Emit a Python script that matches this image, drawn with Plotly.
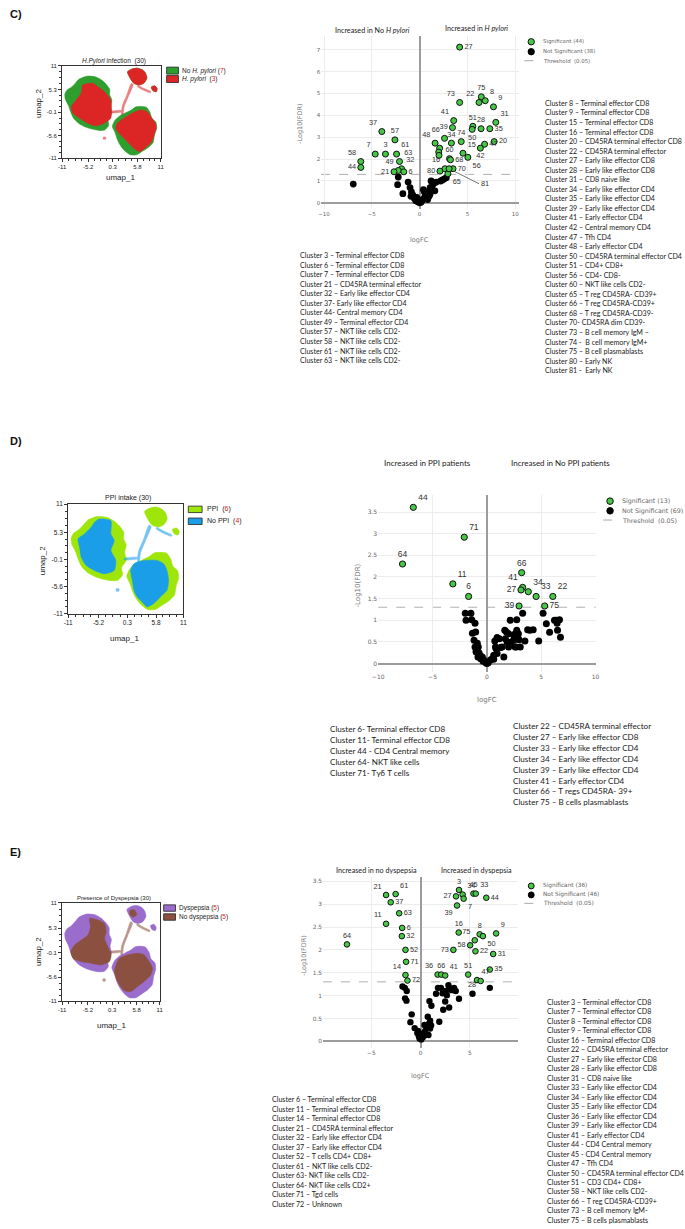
import plotly.graph_objects as go

W, H = 685, 1229


def PX(x):
    return x / W


def PY(y):
    return 1 - y / H


# ======================= DATA =======================
UMAP_TICKS_X = [-11, -5.2, 0.3, 5.8, 11]
UMAP_TICKS_Y = [-11, -5.6, -0.1, 5.3, 11]

# shared UMAP embedding outlines (umap_1, umap_2)
ISLAND_LEFT_X = [-7.2, -5.5, -3.5, -2.1, -1.2, -0.4, -0.4, 0.1, -0.2, 0.1, -0.8, -0.6, -1.5, -2.8,
                 -4.3, -5.8, -7.1, -8.4, -9.1, -9.6, -10.3, -10.4, -9.9, -8.9, -8.0]
ISLAND_LEFT_Y = [7.8, 8.5, 8.3, 7.5, 6.6, 5.4, 4.0, 2.8, 1.3, -0.3, -1.8, -3.2, -4.3, -4.4,
                 -4.1, -3.6, -2.9, -1.6, 0.0, 1.5, 3.0, 4.2, 5.2, 5.9, 6.9]
ISLAND_RIGHT_X = [0.8, 1.9, 3.2, 4.4, 5.5, 6.7, 7.8, 8.6, 9.0, 9.9, 10.1, 9.6, 9.3, 8.3, 7.0, 5.6,
                  4.2, 2.9, 2.0, 1.3, 0.8, 0.2]
ISLAND_RIGHT_Y = [-2.0, -0.9, -0.2, 0.4, 1.2, 1.3, 1.1, -0.1, -1.5, -2.4, -3.8, -5.5, -7.3, -8.4,
                  -9.3, -10.2, -10.2, -9.2, -8.0, -6.5, -4.9, -3.5]
ISLAND_TOP_X = [3.6, 4.6, 5.8, 6.9, 7.6, 7.9, 7.2, 6.1, 5.0, 4.2]
ISLAND_TOP_Y = [9.5, 10.2, 10.4, 10.0, 9.2, 8.0, 6.8, 6.4, 6.8, 8.0]
ISLAND_SMALL_X = [8.9, 9.7, 10.2, 10.0, 9.3]
ISLAND_SMALL_Y = [5.9, 6.2, 5.5, 4.8, 5.0]
STREAM_X = [4.45, 4.85, 3.75, 2.85, 2.55, 2.25, 2.45, 3.4]
STREAM_Y = [6.8, 6.5, 3.6, 1.3, -0.6, -0.6, 1.5, 3.9]
STREAM2_X = [5.9, 7.2, 8.8, 8.7, 7.0, 5.8]
STREAM2_Y = [6.3, 5.6, 4.8, 4.55, 5.25, 6.05]
BRIDGE_X = [-0.3, 2.2, 2.2, -0.3]
BRIDGE_Y = [0.1, 0.3, 0.0, -0.2]
BLOB_X = [-1.8, -1.3, -1.3, -1.8]
BLOB_Y = [-6.0, -6.0, -6.5, -6.5]

# C) H. pylori: red (H. pylori) cells
C_RED_LEFT_X = [-6.38, -4.18, -3.08, -1.61, -0.15, 0.0, -0.15, -1.61, -3.45, -5.28, -7.11, -8.58, -8.95, -7.85, -6.75]
C_RED_LEFT_Y = [6.41, 6.8, 6.01, 4.83, 2.85, 0.47, -1.5, -2.69, -3.32, -2.69, -1.5, -0.32, 1.27, 2.85, 4.43]
C_RED_RIGHT_X = [1.32, 2.79, 4.62, 6.45, 7.92, 9.02, 9.8, 10.0, 9.53, 9.02, 7.92, 6.45, 5.35, 4.25, 2.79, 1.69, 0.95]
C_RED_RIGHT_Y = [-2.69, -1.5, -0.32, 0.47, 0.08, -1.5, -2.69, -3.88, -5.46, -7.04, -8.23, -9.42, -9.02, -7.84, -6.25, -5.07, -3.88]

# D) PPI: blue (No PPI) cells
D_BLUE_LEFT_X = [-5.03, -2.83, -2.83, -2.2, -2.83, -1.89, -2.2, -4.09, -5.97, -7.54, -8.49, -8.8, -9.11, -7.86, -6.6, -5.97]
D_BLUE_LEFT_Y = [8.0, 7.67, 5.0, 3.67, 1.67, -0.33, -2.33, -3.0, -2.33, -1.33, 0.33, 2.33, 4.0, 5.0, 6.33, 7.33]
D_BLUE_RIGHT_X = [1.57, 3.46, 5.97, 7.23, 7.86, 8.17, 7.86, 6.6, 5.34, 4.09, 3.14, 2.2, 1.57, 1.26, 0.94]
D_BLUE_RIGHT_Y = [-1.0, -0.33, -0.33, -1.0, -2.33, -4.33, -6.33, -7.67, -9.0, -9.67, -8.67, -7.67, -6.33, -4.33, -2.33]

# E) Dyspepsia: brown (No dyspepsia) cells
E_BROWN_LEFT_X = [-4.81, -2.95, -1.45, -1.08, -1.45, -0.71, 0.04, -0.34, -2.2, -4.44, -6.67, -8.54, -9.06, -8.17, -6.67, -5.18, -4.59]
E_BROWN_LEFT_Y = [7.52, 7.15, 6.4, 4.55, 3.07, 1.21, -0.64, -2.12, -2.86, -2.49, -2.12, -1.38, 0.1, 1.59, 2.7, 3.81, 5.66]
E_BROWN_RIGHT_X = [1.9, 3.77, 6.0, 7.5, 8.6, 9.36, 8.99, 7.5, 6.0, 4.51, 3.02, 1.9, 1.16, 0.78, 1.16]
E_BROWN_RIGHT_Y = [-1.38, -0.64, -0.27, -0.64, -2.12, -3.6, -5.09, -6.57, -7.68, -8.79, -8.64, -7.31, -5.83, -4.34, -2.86]
E_BROWN_TOP_X = [4.3, 5.3, 5.8, 5.0, 4.3]
E_BROWN_TOP_Y = [9.3, 9.4, 8.4, 7.8, 8.3]

THRESHOLD = 1.30103  # -log10(0.05)

# ---- C volcano ----
C_SIG_LABEL = ["27", "75", "8", "22", "73", "9", "41", "51", "28", "31", "39", "35", "50", "66", "34", "74",
               "48", "20", "47", "42", "15", "56", "60", "68", "16", "70", "80", "65", "", "", "", "",
               "37", "57", "7", "3", "61", "63", "58", "44", "32", "49", "21", "6"]
C_SIG_FC = [4.19, 6.46, 6.87, 6.22, 4.19, 7.73, 3.57, 5.57, 6.43, 7.97, 3.44, 7.35, 5.5, 2.61, 3.33, 4.36,
            1.62, 7.8, 6.8, 6.36, 4.54, 5.05, 3.13, 3.23, 2.65, 3.5, 2.13, 2.96, 3.09, 2.1, 2.0, 2.03,
            -3.95, -2.58, -4.64, -3.57, -2.41, -2.1, -6.15, -6.15, -1.89, -2.23, -2.68, -1.65]
C_SIG_FDR = [7.12, 4.85, 4.67, 4.59, 4.59, 4.39, 3.76, 3.5, 3.39, 3.68, 3.44, 3.39, 3.36, 2.95, 2.73, 2.8,
             2.73, 2.8, 2.68, 2.5, 2.27, 2.08, 2.02, 1.97, 1.56, 1.56, 1.45, 1.33, 1.56, 2.5, 2.32, 2.17,
             3.26, 2.88, 2.23, 2.23, 2.23, 1.89, 1.89, 1.62, 1.56, 1.48, 1.42, 1.42]
C_NS_FC = [-6.94, -2.23, -2.3, -1.75, -1.2, -1.0, -0.85, -0.7, -0.55, -0.4, -0.2, 0.0, 0.15, 0.3, 0.45, 0.6,
           0.75, 0.9, 1.0, 1.1, 1.25, 1.35, 1.5, 1.6, 1.75, 2.2, 2.4, 2.6, 1.2, 0.5, -0.3, 0.85, 1.0, -0.9,
           0.4, 1.1, -0.15, 2.8]
C_NS_FDR = [0.86, 1.18, 0.83, 0.42, 0.95, 0.7, 0.5, 0.35, 0.2, 0.1, 0.05, 0.0, 0.03, 0.12, 0.2, 0.3,
            0.35, 0.45, 0.55, 0.7, 0.6, 0.8, 0.9, 0.55, 0.95, 1.0, 1.05, 1.1, 1.0, 0.5, 0.25, 0.15, 0.3, 0.3,
            0.6, 0.4, 0.15, 1.15]
C_ARROW_LABEL = "81"
C_ARROW_FC = 3.09
C_ARROW_FDR = 1.56

# ---- D volcano ----
D_SIG_LABEL = ["44", "71", "64", "11", "6", "66", "41", "27", "34", "33", "22", "39", "75"]
D_SIG_FC = [-6.77, -2.08, -7.76, -3.13, -1.68, 3.2, 3.29, 3.14, 3.81, 4.53, 6.07, 2.96, 5.32]
D_SIG_FDR = [3.61, 2.92, 2.30, 1.84, 1.55, 2.10, 1.76, 1.70, 1.66, 1.55, 1.55, 1.33, 1.33]
D_NS_FC = [-1.99, -1.47, -1.92, -1.39, -1.09, -1.33, -1.03, -1.18, -0.88, -1.09, -0.79, -0.73, -0.82, -0.57,
           -0.42, -0.27, 0.0, 0.12, 0.33, 0.48, 0.63, 0.79, 0.73, 0.94, 1.15, 0.85, 0.63, -0.35, -0.63, -1.0,
           -0.1,
           1.65, 1.8, 2.0, 2.15, 2.75, 1.86, 2.0, 1.56, 2.46, 2.6, 2.75, 2.84, 2.96, 2.69, 3.29, 3.5, 3.96,
           4.26, 4.77, 5.17, 5.47, 5.77, 6.22, 6.46, 6.68, 6.77, 2.9, 2.24, 1.4, 1.7, 2.48, 3.07, 6.37, 6.5,
           2.6, 3.75, 0.94, 1.25]
D_NS_FDR = [1.16, 1.16, 1.0, 1.01, 0.93, 0.70, 0.73, 0.54, 0.47, 0.38, 0.38, 0.25, 0.15, 0.11,
            0.15, 0.08, 0.0, 0.02, 0.08, 0.11, 0.19, 0.38, 0.52, 0.60, 0.57, 0.34, 0.10, 0.05, 0.19, 0.27,
            0.02,
            0.77, 0.73, 0.69, 1.0, 1.01, 0.50, 0.38, 0.15, 0.54, 0.38, 0.77, 0.60, 0.55, 0.38, 1.16, 0.52, 0.77,
            0.78, 0.52, 1.16, 0.92, 0.72, 1.0, 0.93, 1.01, 0.61, 0.69, 0.5, 0.38, 0.57, 0.65, 0.38, 1.0, 0.77,
            0.69, 0.78, 0.23, 0.37]

# ---- E volcano ----
E_SIG_LABEL = ["64", "21", "61", "37", "63", "11", "6", "32", "52", "71", "14", "72", "3", "34", "45", "33",
               "27", "7", "44", "39", "16", "8", "9", "75", "50", "58", "22", "73", "31", "36", "66", "41",
               "51", "35", "47", ""]
E_SIG_FC = [-7.47, -3.5, -2.53, -3.03, -2.17, -3.5, -1.87, -1.9, -1.53, -1.47, -1.53, -1.33, 3.9, 4.27, 5.37,
            5.6, 3.6, 4.37, 6.67, 3.7, 3.87, 6.0, 7.67, 5.5, 6.33, 5.03, 5.57, 3.33, 7.37, 1.73, 2.1, 2.5,
            4.83, 7.03, 5.73, 6.1]
E_SIG_FDR = [2.12, 3.2, 3.22, 3.04, 2.8, 2.57, 2.48, 2.3, 2.0, 1.74, 1.45, 1.33, 3.31, 3.21, 3.23, 3.23,
             3.17, 3.12, 3.14, 2.97, 2.38, 2.34, 2.36, 2.21, 2.30, 2.10, 1.97, 2.0, 1.91, 1.46, 1.46, 1.44,
             1.46, 1.57, 1.34, 1.32]
E_NS_FC = [-1.83, -1.6, -1.4, -1.57, -1.43, -0.9, -1.03, -0.6, -0.33, -0.17, 0.07, 0.23, 0.3, 0.47, 0.63,
           0.83, 0.97, 0.73, 0.97, 1.9, 0.9, 1.1, 1.57, 1.77, 2.07, 2.23, 2.57, 2.67, 2.9, 3.17, 3.4, 3.57,
           3.9, 2.9, 2.3, 5.27, 7.03, -0.1, 0.13, 0.57, -0.27, 0.4, 0.8, 1.07, 2.83, 2.5]
E_NS_FDR = [1.2, 1.17, 1.1, 0.94, 0.89, 0.59, 0.42, 0.29, 0.18, 0.11, 0.04, 0.09, 0.18, 0.23, 0.3,
            0.38, 0.28, 0.54, 0.45, 0.43, 0.88, 0.78, 1.04, 1.17, 1.17, 1.05, 1.1, 1.01, 1.17, 1.12, 1.17, 1.1,
            0.93, 0.74, 0.69, 1.04, 1.17, 0.06, 0.13, 0.14, 0.23, 0.36, 0.14, 0.35, 1.23, 0.87]
E_NS_LABEL_NAME = "28"
E_NS_LABEL_FC = 5.27
E_NS_LABEL_FDR = 1.04

C_COUNTS = (44, 38)
D_COUNTS = (13, 69)
E_COUNTS = (36, 46)

C_LIST_LEFT = [
    "Cluster 3 – Terminal effector CD8", "Cluster 6 – Terminal effector CD8",
    "Cluster 7 – Terminal effector CD8", "Cluster 21 – CD45RA terminal effector",
    "Cluster 32 – Early like effector CD4", "Cluster 37- Early like effector CD4",
    "Cluster 44- Central memory CD4", "Cluster 49 – Terminal effector CD4",
    "Cluster 57 – NKT like cells CD2-", "Cluster 58 – NKT like cells CD2-",
    "Cluster 61 – NKT like cells CD2-", "Cluster 63 – NKT like cells CD2-"]
C_LIST_RIGHT = [
    "Cluster 8 – Terminal effector CD8", "Cluster 9 – Terminal effector CD8",
    "Cluster 15 – Terminal effector CD8", "Cluster 16 – Terminal effector CD8",
    "Cluster 20 – CD45RA terminal effector CD8", "Cluster 22 – CD45RA terminal effector",
    "Cluster 27 – Early like effector CD8", "Cluster 28 – Early like effector CD8",
    "Cluster 31 – CD8 naive like", "Cluster 34 – Early like effector CD4",
    "Cluster 35 – Early like effector CD4", "Cluster 39 – Early like effector CD4",
    "Cluster 41 – Early effector CD4", "Cluster 42 – Central memory CD4",
    "Cluster 47 – Tfh CD4", "Cluster 48 – Early effector CD4",
    "Cluster 50 – CD45RA terminal effector CD4", "Cluster 51 – CD4+ CD8+",
    "Cluster 56 – CD4- CD8-", "Cluster 60 – NKT like cells CD2-",
    "Cluster 65 – T reg CD45RA- CD39+", "Cluster 66 – T reg CD45RA-CD39+",
    "Cluster 68 – T reg CD45RA-CD39-", "Cluster 70- CD45RA dim CD39-",
    "Cluster 73 – B cell memory IgM –", "Cluster 74 -  B cell memory IgM+",
    "Cluster 75 – B cell plasmablasts", "Cluster 80 – Early NK", "Cluster 81 -  Early NK"]
D_LIST_LEFT = [
    "Cluster 6- Terminal effector CD8", "Cluster 11- Terminal effector CD8",
    "Cluster 44 - CD4 Central memory", "Cluster 64- NKT like cells", "Cluster 71- Tγδ T cells"]
D_LIST_RIGHT = [
    "Cluster 22 – CD45RA terminal effector", "Cluster 27 – Early like effector CD8",
    "Cluster 33 – Early like effector CD4", "Cluster 34 – Early like effector CD4",
    "Cluster 39 – Early like effector CD4", "Cluster 41 – Early effector CD4",
    "Cluster 66 – T regs CD45RA- 39+", "Cluster 75 – B cells plasmablasts"]
E_LIST_LEFT = [
    "Cluster 6 – Terminal effector CD8", "Cluster 11 – Terminal effector CD8",
    "Cluster 14 – Terminal effector CD8", "Cluster 21 – CD45RA terminal effector",
    "Cluster 32 – Early like effector CD4", "Cluster 37 – Early like effector CD4",
    "Cluster 52 – T cells CD4+ CD8+", "Cluster 61 – NKT like cells CD2-",
    "Cluster 63- NKT like cells CD2-", "Cluster 64- NKT like cells CD2+",
    "Cluster 71 – Tgd cells", "Cluster 72 – Unknown"]
E_LIST_RIGHT = [
    "Cluster 3 – Terminal effector CD8", "Cluster 7 – Terminal effector CD8",
    "Cluster 8 – Terminal effector CD8", "Cluster 9 – Terminal effector CD8",
    "Cluster 16 – Terminal effector CD8", "Cluster 22 – CD45RA terminal effector",
    "Cluster 27 – Early like effector CD8", "Cluster 28 – Early like effector CD8",
    "Cluster 31 – CD8 naive like", "Cluster 33 – Early like effector CD4",
    "Cluster 34 – Early like effector CD4", "Cluster 35 – Early like effector CD4",
    "Cluster 36 – Early like effector CD4", "Cluster 39 – Early like effector CD4",
    "Cluster 41 – Early effector CD4", "Cluster 44 - CD4 Central memory",
    "Cluster 45 - CD4 Central memory", "Cluster 47 – Tfh CD4",
    "Cluster 50 – CD45RA terminal effector CD4", "Cluster 51 – CD3 CD4+ CD8+",
    "Cluster 58 – NKT like cells CD2-", "Cluster 66 – T reg CD45RA-CD39+",
    "Cluster 73 – B cell memory IgM-", "Cluster 75 – B cells plasmablasts"]

# ======================= STYLE =======================
C_TEXTPOS = ["middle right", "top center", "top right", "top left", "top left", "top right", "top left",
             "top center", "top center", "top right", "middle left", "middle right", "bottom center",
             "top left", "top center", "top center", "top left", "middle right", "middle right",
             "bottom center", "top right", "bottom right", "top center", "middle right", "top left",
             "middle right", "middle left", "bottom right", "top center", "top center", "top center",
             "top center", "top left", "top center", "top left", "top center", "top right", "top right",
             "top left", "middle left", "top right", "top left", "middle left", "middle right"]
D_TEXTPOS = ["top right", "top right", "top center", "top right", "top center", "top center", "top left",
             "middle left", "top right", "top right", "top right", "middle left", "middle right"]
E_TEXTPOS = ["top center", "top left", "top right", "middle right", "middle right", "top left",
             "middle right", "middle right", "middle right", "middle right", "top left", "middle right",
             "top center", "top right", "top center", "top right", "middle left", "bottom right",
             "middle right", "bottom left", "top center", "top center", "top right", "top left",
             "bottom right", "middle left", "middle right", "middle left", "middle right", "top left",
             "top center", "top right", "top center", "middle right", "top right", "top center"]

GREEN = "#46c846"
LIST_FONT = "Lato"
fig = go.Figure()
ann = []
shapes = []


def poly_trace(polys, color, xa, ya, opacity=1.0):
    xs, ys = [], []
    for px_, py_ in polys:
        xs += list(px_) + [px_[0], None]
        ys += list(py_) + [py_[0], None]
    return go.Scatter(x=xs, y=ys, mode="lines", fill="toself", fillcolor=color, opacity=opacity,
                      line=dict(color=color, width=0.6, shape="spline", smoothing=0.6),
                      hoverinfo="skip", showlegend=False, xaxis=xa, yaxis=ya)


MAIN_ISLANDS = [(ISLAND_LEFT_X, ISLAND_LEFT_Y), (ISLAND_RIGHT_X, ISLAND_RIGHT_Y),
                (ISLAND_TOP_X, ISLAND_TOP_Y), (ISLAND_SMALL_X, ISLAND_SMALL_Y)]
THIN_PARTS = [(STREAM_X, STREAM_Y), (STREAM2_X, STREAM2_Y), (BRIDGE_X, BRIDGE_Y), (BLOB_X, BLOB_Y)]

# ---- UMAP C ----
fig.add_trace(poly_trace(MAIN_ISLANDS, "#2e9e2e", "x", "y"))
fig.add_trace(poly_trace([(C_RED_LEFT_X, C_RED_LEFT_Y), (C_RED_RIGHT_X, C_RED_RIGHT_Y),
                          (ISLAND_TOP_X, ISLAND_TOP_Y), (ISLAND_SMALL_X, ISLAND_SMALL_Y)],
                         "#dc2626", "x", "y"))
fig.add_trace(poly_trace(THIN_PARTS, "#dc2626", "x", "y", 0.6))
# ---- UMAP D ----
fig.add_trace(poly_trace(MAIN_ISLANDS, "#9ee60a", "x3", "y3"))
fig.add_trace(poly_trace([(D_BLUE_LEFT_X, D_BLUE_LEFT_Y), (D_BLUE_RIGHT_X, D_BLUE_RIGHT_Y)],
                         "#1a9ee8", "x3", "y3"))
fig.add_trace(poly_trace(THIN_PARTS, "#1a9ee8", "x3", "y3", 0.6))
# ---- UMAP E ----
fig.add_trace(poly_trace(MAIN_ISLANDS, "#9a6ccc", "x5", "y5"))
fig.add_trace(poly_trace([(E_BROWN_LEFT_X, E_BROWN_LEFT_Y), (E_BROWN_RIGHT_X, E_BROWN_RIGHT_Y),
                          (E_BROWN_TOP_X, E_BROWN_TOP_Y)], "#8c5040", "x5", "y5"))
fig.add_trace(poly_trace(THIN_PARTS, "#8c5040", "x5", "y5", 0.6))


def volcano(sig_fc, sig_fdr, sig_lab, textpos, ns_fc, ns_fdr, xa, ya, size, lfs):
    fig.add_trace(go.Scatter(x=ns_fc, y=ns_fdr, mode="markers", xaxis=xa, yaxis=ya,
                             marker=dict(color="black", size=size + 0.8, line=dict(color="black", width=0)),
                             hoverinfo="skip", showlegend=False))
    fig.add_trace(go.Scatter(x=sig_fc, y=sig_fdr, mode="markers+text", xaxis=xa, yaxis=ya,
                             text=sig_lab, textposition=textpos,
                             textfont=dict(size=lfs, color="#333", family="Liberation Sans"),
                             marker=dict(color=GREEN, size=size, line=dict(color="#111", width=1)),
                             hoverinfo="skip", showlegend=False))
    shapes.append(dict(type="line", xref=xa + " domain", yref=ya, x0=0, x1=1, y0=THRESHOLD, y1=THRESHOLD,
                       line=dict(color="#b0b0b0", width=1, dash="dash"), layer="below"))


volcano(C_SIG_FC, C_SIG_FDR, C_SIG_LABEL, C_TEXTPOS, C_NS_FC, C_NS_FDR, "x2", "y2", 6, 7.3)
volcano(D_SIG_FC, D_SIG_FDR, D_SIG_LABEL, D_TEXTPOS, D_NS_FC, D_NS_FDR, "x4", "y4", 6.2, 8.5)
volcano(E_SIG_FC, E_SIG_FDR, E_SIG_LABEL, E_TEXTPOS, E_NS_FC, E_NS_FDR, "x6", "y6", 5.6, 7.3)

ann.append(dict(x=C_ARROW_FC, y=C_ARROW_FDR, xref="x2", yref="y2", text=C_ARROW_LABEL, showarrow=True,
                arrowhead=0, arrowwidth=0.8, arrowcolor="#555", ax=30, ay=15, standoff=6,
                xanchor="left", font=dict(size=7.3, color="#333", family="Liberation Sans")))
ann.append(dict(x=E_NS_LABEL_FC, y=E_NS_LABEL_FDR, xref="x6", yref="y6", text=E_NS_LABEL_NAME,
                showarrow=False, yshift=9, font=dict(size=7.3, color="#333", family="Liberation Sans")))


# ---------- axes ----------
def minor_vals(majors):
    out = []
    for a, b in zip(majors[:-1], majors[1:]):
        for k in (1, 2, 3):
            out.append(a + (b - a) * k / 4)
    return out


def umap_axes(n, x0, x1, y0, y1, fs):
    common = dict(range=[-11, 11], tickmode="array", showline=True, linecolor="#333", linewidth=1,
                  mirror=True, ticks="outside", ticklen=3, tickwidth=0.8, tickcolor="#333", showgrid=False,
                  zeroline=False, tickfont=dict(size=fs, color="#222", family="Liberation Sans"),
                  fixedrange=True)
    ax = dict(domain=[PX(x0), PX(x1)], tickvals=UMAP_TICKS_X, ticktext=[str(v) for v in UMAP_TICKS_X],
              minor=dict(tickvals=minor_vals(UMAP_TICKS_X), ticks="outside", ticklen=2, tickcolor="#333",
                         tickwidth=0.7, showgrid=False),
              anchor="y" + n, **common)
    ay = dict(domain=[PY(y1), PY(y0)], tickvals=UMAP_TICKS_Y, ticktext=[str(v) for v in UMAP_TICKS_Y],
              minor=dict(tickvals=minor_vals(UMAP_TICKS_Y), ticks="outside", ticklen=2, tickcolor="#333",
                         tickwidth=0.7, showgrid=False),
              anchor="x" + n, **common)
    return ax, ay


def volc_axes(n, x0, x1, y0, y1, xr, yr, xt, yt, fs):
    common = dict(tickmode="array", showgrid=True, gridcolor="#ececec", gridwidth=1, zeroline=True,
                  zerolinecolor="#9c9c9c", zerolinewidth=1.6, showline=False, ticks="",
                  tickfont=dict(size=fs, color="#666", family="DejaVu Sans"), fixedrange=True)
    ax = dict(domain=[PX(x0), PX(x1)], range=xr, tickvals=xt, anchor="y" + n, **common)
    ay = dict(domain=[PY(y1), PY(y0)], range=yr, tickvals=yt, anchor="x" + n, **common)
    return ax, ay


layout_axes = {}
a, b = umap_axes("", 57, 157, 62, 155, 6)
layout_axes["xaxis"], layout_axes["yaxis"] = a, b
a, b = volc_axes("2", 319.8, 520.6, 31.7, 206.6, [-10.3, 10.4], [-0.3, 7.65], [-10, -5, 0, 5, 10],
                 [0, 1, 2, 3, 4, 5, 6, 7], 5.5)
layout_axes["xaxis2"], layout_axes["yaxis2"] = a, b
a, b = umap_axes("3", 63, 180, 503, 613, 6.5)
layout_axes["xaxis3"], layout_axes["yaxis3"] = a, b
a, b = volc_axes("4", 377.7, 598.3, 493.6, 672, [-10, 10], [-0.2, 3.9], [-10, -5, 0, 5, 10],
                 [0, 0.5, 1, 1.5, 2, 2.5, 3, 3.5], 6)
layout_axes["xaxis4"], layout_axes["yaxis4"] = a, b
a, b = umap_axes("5", 57, 156, 904, 1003, 6)
layout_axes["xaxis5"], layout_axes["yaxis5"] = a, b
a, b = volc_axes("6", 321.7, 519.7, 877.7, 1050.2, [-9.9, 9.9], [-0.15, 3.6], [-5, 0, 5],
                 [0, 0.5, 1, 1.5, 2, 2.5, 3, 3.5], 5.8)
layout_axes["xaxis6"], layout_axes["yaxis6"] = a, b


# ---------- text helpers ----------
def text(x, y, s, size, color="#222", family="Liberation Sans", xanchor="left", angle=0, bold=False):
    if bold:
        s = "<b>" + s + "</b>"
    ann.append(dict(x=PX(x), y=PY(y), xref="paper", yref="paper", text=s, showarrow=False,
                    xanchor=xanchor, yanchor="middle", textangle=angle,
                    font=dict(size=size, color=color, family=family)))


def cluster_list(lines, x, y0, step, size):
    for i, s in enumerate(lines):
        text(x, y0 + i * step, s, size, color="#1a1a1a", family=LIST_FONT)


def box(x0, y0, x1, y1, color):
    shapes.append(dict(type="rect", xref="paper", yref="paper", x0=PX(x0), x1=PX(x1), y0=PY(y1), y1=PY(y0),
                       fillcolor=color, line=dict(color="#222", width=0.8)))


def circle(cx, cy, r, color, lc):
    shapes.append(dict(type="circle", xref="paper", yref="paper", x0=PX(cx - r), x1=PX(cx + r),
                       y0=PY(cy + r), y1=PY(cy - r), fillcolor=color, line=dict(color=lc, width=1)))


def volc_legend(mx, tx, ys, counts, fs, r):
    circle(mx, ys[0], r, GREEN, "#111")
    circle(mx, ys[1], r, "black", "black")
    shapes.append(dict(type="line", xref="paper", yref="paper", x0=PX(mx - 7), x1=PX(mx + 7),
                       y0=PY(ys[2]), y1=PY(ys[2]), line=dict(color="#aaa", width=1, dash="dash")))
    text(tx, ys[0], "Significant (%d)" % counts[0], fs, "#666", "DejaVu Sans")
    text(tx, ys[1], "Not Significant (%d)" % counts[1], fs, "#666", "DejaVu Sans")
    text(tx, ys[2], "Threshold  (0.05)", fs, "#666", "DejaVu Sans")


RED = '<span style="color:#e0201c">%s</span>'

# ---- Panel C ----
text(2, 10, "C)", 11, "#111", "Liberation Sans", bold=True)
text(110, 57, "<i>H.Pylori</i> infection  (30)", 6.5, xanchor="center")
text(116, 174, "umap_1", 8, xanchor="center")
text(33, 100, "umap_2", 8, xanchor="center", angle=-90)
box(163, 63.5, 175, 70.5, "#2e9e2e")
box(163, 72, 175, 79, "#dc2626")
text(177, 67, "No <i>H. pylori</i> (" + RED % "7" + ")", 6.5)
text(177, 75.5, "<i>H. pylori</i>  (" + RED % "3" + ")", 6.5)
text(372, 27, "Increased in No <i>H pylori</i>", 7.2, "#222", LIST_FONT, xanchor="center")
text(477, 25, "Increased in <i>H pylori</i>", 7.2, "#222", LIST_FONT, xanchor="center")
text(299, 120, "-Log10(FDR)", 6.5, "#777", "DejaVu Sans", xanchor="center", angle=-90)
text(420, 237, "logFC", 6.5, "#777", "DejaVu Sans", xanchor="center")
volc_legend(533, 543, [38, 48, 57], C_COUNTS, 5.4, 3.2)
cluster_list(C_LIST_RIGHT, 545, 100, 9.6, 7.1)
cluster_list(C_LIST_LEFT, 296, 253, 9.6, 7.1)

# ---- Panel D ----
text(2, 440, "D)", 11, "#111", "Liberation Sans", bold=True)
text(124, 497, "PPI intake (30)", 7, xanchor="center")
text(120.5, 638, "umap_1", 8, xanchor="center")
text(37, 560, "umap_2", 8, xanchor="center", angle=-90)
box(185, 505, 199, 511.5, "#9ee60a")
box(185, 517, 199, 523.5, "#1a9ee8")
text(202, 508, "PPI  (" + RED % "6" + ")", 7)
text(202, 520, "No PPI  (" + RED % "4" + ")", 7)
text(427.5, 461.7, "Increased in PPI patients", 8, "#222", LIST_FONT, xanchor="center")
text(562.5, 461.7, "Increased in No PPI patients", 8, "#222", LIST_FONT, xanchor="center")
text(357, 585, "-Log10(FDR)", 7, "#777", "DejaVu Sans", xanchor="center", angle=-90)
text(488, 700, "logFC", 7, "#777", "DejaVu Sans", xanchor="center")
volc_legend(613, 623, [500, 509.7, 519], D_COUNTS, 6.3, 3.3)
cluster_list(D_LIST_LEFT, 327, 729, 11, 8.1)
cluster_list(D_LIST_RIGHT, 512, 726, 11, 8.1)

# ---- Panel E ----
text(2, 853, "E)", 11, "#111", "Liberation Sans", bold=True)
text(109.5, 899, "Presence of Dyspepsia (30)", 6, xanchor="center")
text(106.7, 1027, "umap_1", 8, xanchor="center")
text(33, 953, "umap_2", 8, xanchor="center", angle=-90)
box(160, 906, 172, 912.5, "#9a6ccc")
box(160, 915, 172, 921.5, "#8c5040")
text(174, 909, "Dyspepsia (" + RED % "5" + ")", 6.5)
text(174, 918, "No dyspepsia (" + RED % "5" + ")", 6.5)
text(375.5, 871, "Increased in no dyspepsia", 7.2, "#222", LIST_FONT, xanchor="center")
text(477, 871, "Increased in dyspepsia", 7.2, "#222", LIST_FONT, xanchor="center")
text(301.7, 957, "-Log10(FDR)", 6.5, "#777", "DejaVu Sans", xanchor="center", angle=-90)
text(421, 1078, "logFC", 6.5, "#777", "DejaVu Sans", xanchor="center")
volc_legend(533, 543, [887, 896, 904.5], E_COUNTS, 5.8, 3.0)
cluster_list(E_LIST_LEFT, 268, 1102, 9.55, 7.1)
cluster_list(E_LIST_RIGHT, 547, 1004, 9.54, 7.1)

fig.update_layout(width=W, height=H, margin=dict(l=0, r=0, t=0, b=0), autosize=False,
                  paper_bgcolor="white", plot_bgcolor="white", showlegend=False,
                  annotations=ann, shapes=shapes, **layout_axes)
# remove the browser's default 8px body margin so the figure sits at the page origin
fig.write_html("out.html", config={"displayModeBar": False},
               post_script="document.body.style.margin='0px';document.body.style.overflow='hidden';")
